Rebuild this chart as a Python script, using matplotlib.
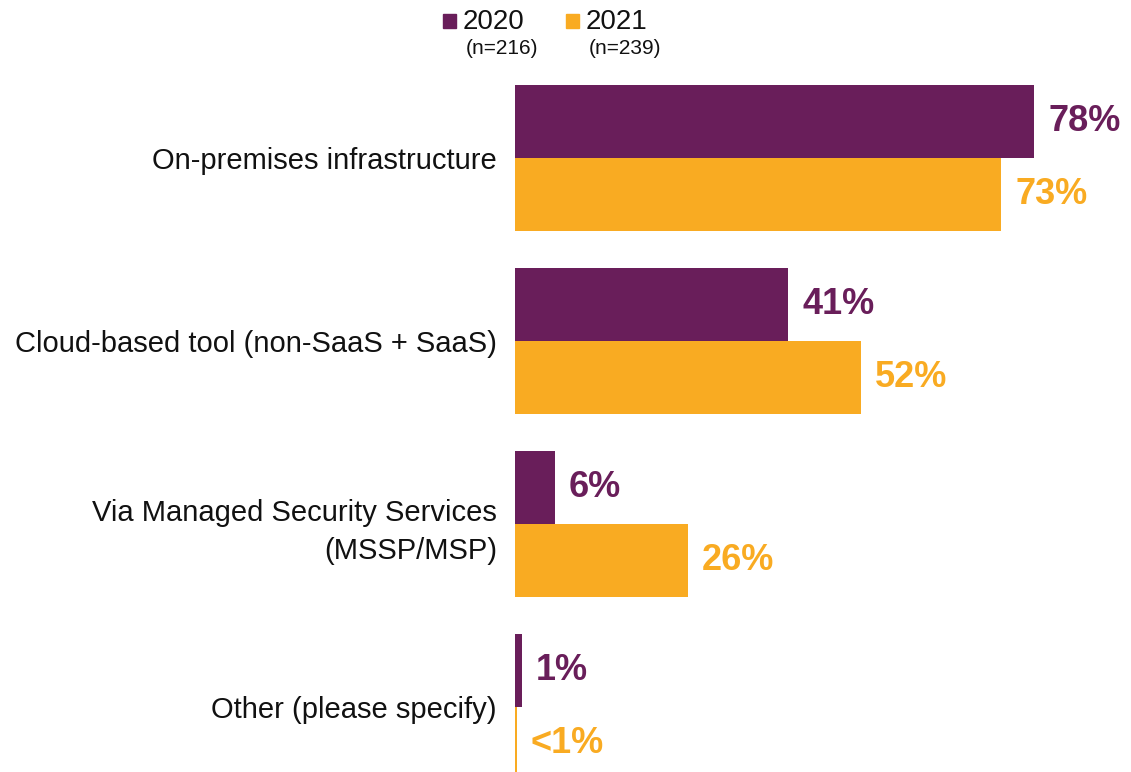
import matplotlib
matplotlib.use("Agg")
import matplotlib.pyplot as plt
from matplotlib.patches import Rectangle

categories = ["On-premises infrastructure", "Cloud-based tool (non-SaaS + SaaS)",
              "Via Managed Security Services\n(MSSP/MSP)", "Other (please specify)"]
values_2020 = [78, 41, 6, 1]
values_2021 = [73, 52, 26, 0.3]
labels_2020 = ["78%", "41%", "6%", "1%"]
labels_2021 = ["73%", "52%", "26%", "<1%"]
series_names = ["2020", "2021"]
series_n = ["(n=216)", "(n=239)"]

purple = "#691E5A"
orange = "#F9AB22"
plt.rcParams['font.family'] = ['Liberation Sans', 'DejaVu Sans']

W, H = 1131, 772
fig = plt.figure(figsize=(W / 100, H / 100), dpi=100)
ax_left = 515 / W
ax = fig.add_axes([ax_left, 0, 1 - ax_left, (772 - 60) / H])
ax.set_xlim(0, (W - 515) / 6.66)
ax.set_ylim((772 - 158) / 183, -(158 - 60) / 183)

h = 0.4
for i, (a, b) in enumerate(zip(values_2020, values_2021)):
    ax.barh(i - h / 2, a, height=h, color=purple)
    ax.barh(i + h / 2, b, height=h, color=orange)
    ax.text(a + 2.1, i - h / 2, labels_2020[i], color=purple, fontsize=26,
            fontweight='bold', va='center', ha='left')
    ax.text(b + 2.1, i + h / 2, labels_2021[i], color=orange, fontsize=26,
            fontweight='bold', va='center', ha='left')

ax.set_yticks(range(len(categories)))
ax.set_yticklabels(categories, fontsize=21, color='#111111', linespacing=1.45)
ax.tick_params(axis='y', length=0, pad=13)
ax.tick_params(axis='x', bottom=False, labelbottom=False)
for s in ax.spines.values():
    s.set_visible(False)

# legend
for k, (x0, col) in enumerate([(443, purple), (566, orange)]):
    fig.patches.append(Rectangle((x0 / W, 1 - 28 / H), 13 / W, 14 / H,
                                 transform=fig.transFigure, color=col))
    fig.text((x0 + 20) / W, 1 - 22 / H, series_names[k], fontsize=20,
             va='center', ha='left', color='#111111')
    fig.text((x0 + 23) / W, 1 - 48 / H, series_n[k], fontsize=15,
             va='center', ha='left', color='#111111')

fig.savefig("out.png", dpi=100)
